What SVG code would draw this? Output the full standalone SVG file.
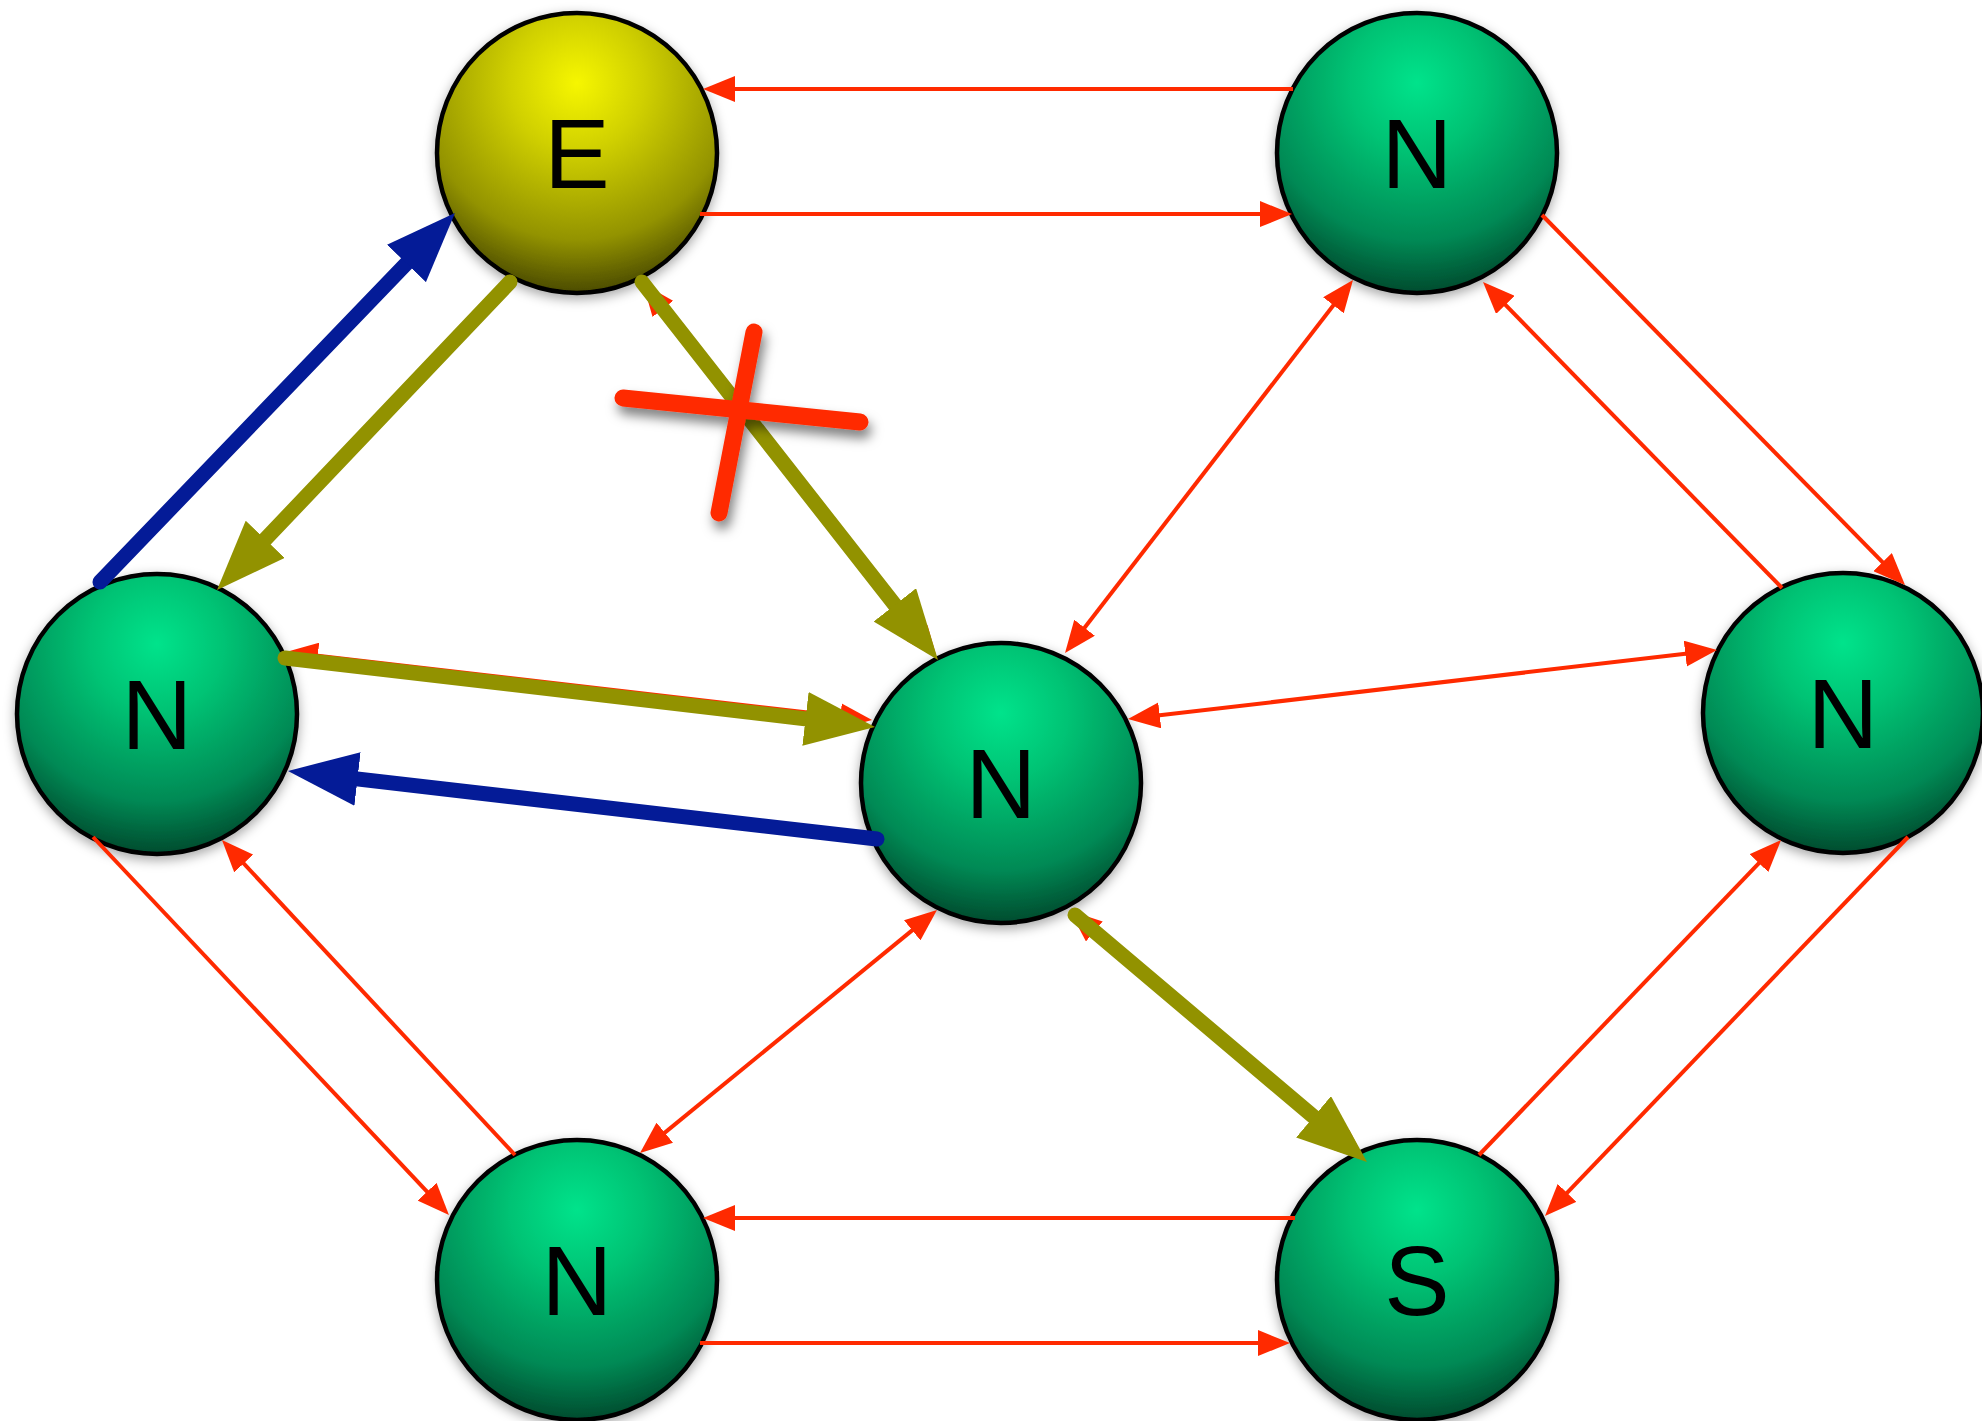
<svg xmlns="http://www.w3.org/2000/svg" width="1982" height="1421" viewBox="0 0 1982 1421">
<defs>
<radialGradient id="gGreen" cx="0.5" cy="0.25" r="0.8" fx="0.5" fy="0.25">
<stop offset="0" stop-color="#00e38b"/>
<stop offset="0.3" stop-color="#00c374"/>
<stop offset="0.7" stop-color="#008a55"/>
<stop offset="0.95" stop-color="#00482c"/>
<stop offset="1" stop-color="#003d25"/>
</radialGradient>
<radialGradient id="gYellow" cx="0.5" cy="0.25" r="0.8" fx="0.5" fy="0.25">
<stop offset="0" stop-color="#f6f600"/>
<stop offset="0.3" stop-color="#d0d000"/>
<stop offset="0.7" stop-color="#939300"/>
<stop offset="0.95" stop-color="#474700"/>
<stop offset="1" stop-color="#3a3a00"/>
</radialGradient>
<filter id="shadow" x="-20%" y="-20%" width="140%" height="140%">
<feDropShadow dx="0" dy="4" stdDeviation="6" flood-color="#000" flood-opacity="0.35"/>
</filter>
<filter id="xshadow" x="-30%" y="-30%" width="160%" height="160%">
<feDropShadow dx="3" dy="8" stdDeviation="6" flood-color="#000" flood-opacity="0.5"/>
</filter>
<marker id="ar" markerUnits="userSpaceOnUse" markerWidth="32" markerHeight="26" refX="24" refY="13" orient="auto-start-reverse">
<path d="M0,0 L32,13 L0,26 z" fill="#ff2a00"/>
</marker>
<marker id="ao" markerUnits="userSpaceOnUse" markerWidth="70" markerHeight="54" refX="40" refY="27" orient="auto">
<path d="M0,0 L70,27 L0,54 z" fill="#929200"/>
</marker>
<marker id="ab" markerUnits="userSpaceOnUse" markerWidth="70" markerHeight="54" refX="40" refY="27" orient="auto">
<path d="M0,0 L70,27 L0,54 z" fill="#041b97"/>
</marker>
</defs>
<style>
.node circle { stroke: #000; stroke-width: 4.5; filter: url(#shadow); }
.green { fill: url(#gGreen); }
.yellow { fill: url(#gYellow); }
.node text { font-family: "Liberation Sans", Arial, sans-serif; font-size: 98px; fill: #000; text-anchor: middle; }
.red { stroke: #ff2a00; stroke-width: 4; fill: none; }
.r1 { marker-end: url(#ar); }
.r2 { marker-start: url(#ar); marker-end: url(#ar); }
.olive { stroke: #929200; stroke-width: 15; stroke-linecap: round; fill: none; marker-end: url(#ao); }
.blue { stroke: #041b97; stroke-width: 15; stroke-linecap: round; fill: none; marker-end: url(#ab); }
.cross { stroke: #ff2a00; stroke-width: 17; stroke-linecap: round; fill: none; }
</style>

<g id="nodes">
<g id="node-E" class="node"><circle class="yellow" cx="577" cy="153" r="140"/><text x="577" y="188">E</text></g>
<g id="node-NTR" class="node"><circle class="green" cx="1417" cy="153" r="140"/><text x="1417" y="188">N</text></g>
<g id="node-NL" class="node"><circle class="green" cx="157" cy="714" r="140"/><text x="157" y="749">N</text></g>
<g id="node-NC" class="node"><circle class="green" cx="1001" cy="783" r="140"/><text x="1001" y="818">N</text></g>
<g id="node-NR" class="node"><circle class="green" cx="1843" cy="713" r="140"/><text x="1843" y="748">N</text></g>
<g id="node-NB" class="node"><circle class="green" cx="577" cy="1280" r="140"/><text x="577" y="1315">N</text></g>
<g id="node-S" class="node"><circle class="green" cx="1417" cy="1280" r="140"/><text x="1417" y="1315">S</text></g>
</g>

<g id="connectors">
<!-- red links -->
<path class="red r1" d="M1293,89 L711,89"/>
<path class="red r1" d="M700,214 L1284,214"/>
<path class="red r1" d="M1542,215 L1899.4,579.3"/>
<path class="red r1" d="M1782,588 L1488.6,287.7"/>
<path class="red r2" d="M1069.9,646.7 L1348.1,286.3"/>
<path class="red r2" d="M1135.9,718.1 L1709.1,650.9"/>
<path class="red r2" d="M930.8,915.1 L646.2,1147.9"/>
<path class="red r1" d="M93,837 L443.5,1209.2"/>
<path class="red r1" d="M515,1155 L227.4,845.9"/>
<path class="red r1" d="M700,1343 L1282,1343"/>
<path class="red r1" d="M1295,1218 L711,1218"/>
<path class="red r1" d="M1479,1155 L1775.5,845.8"/>
<path class="red r1" d="M1908,837 L1550.5,1210.2"/>
<path class="red r2" d="M293.9,652.9 L864.1,719.1"/>
<path class="red r2" d="M648,290 L932,652"/>
<path class="red r2" d="M1076,916 L1359,1155"/>
<path class="red" d="M513,278 L222,585"/>
<path class="red" d="M95,586 L450,218"/>

<!-- olive path -->
<path class="olive" d="M510,282 L237.7,568.3"/>
<path class="olive" d="M642,282 L919.5,636.4"/>
<path class="olive" d="M285,658 L845.2,723.5"/>
<path class="olive" d="M1075,915 L1344.1,1142.6"/>

<!-- blue path -->
<path class="blue" d="M100,582 L434.2,234.6"/>
<path class="blue" d="M877,839 L317.8,774.4"/>
</g>

<g id="cross" filter="url(#xshadow)">
<path class="cross" d="M623,398 L860,422"/>
<path class="cross" d="M754,332 L719,513"/>
</g>
</svg>
